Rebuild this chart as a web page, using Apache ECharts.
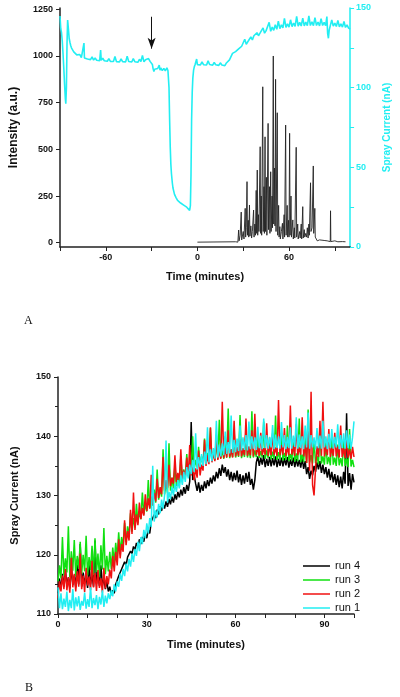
<!DOCTYPE html>
<html><head><meta charset="utf-8">
<script src="https://cdn.jsdelivr.net/npm/echarts@6/dist/echarts.min.js"></script>
<style>html,body{margin:0;padding:0;background:#fff}#c{width:400px;height:697px}</style>
</head><body><div id="c"></div>
<script>
// ---- Panel A: intensity (a.u.) ----
const intensityTime = [0,25,26,26.5,27,27.3,28,28.7,29,30,30.5,31.3,31.6,32,32.5,32.8,33.3,33.6,34.1,34.4,35,35.5,36,36.8,37.1,37.6,38,38.5,38.8,39.2,39.5,40,40.3,41.1,41.4,41.8,42.1,42.8,43.1,43.6,43.9,44.3,44.6,45.2,45.5,46.3,46.6,47.2,47.5,48,48.3,48.9,49.2,49.7,50,50.5,50.8,51.2,51.5,52.3,52.6,53.2,53.5,54,54.3,55,55.7,56,56.8,57.1,57.8,58.1,58.8,59.1,59.7,60,60.4,60.7,61.3,61.6,62.5,62.8,63.5,63.8,64.7,65,65.7,66,67,67.3,68,68.3,69,69.3,70,70.3,71,71.5,72,72.5,73,73.3,74.1,74.4,75.1,75.9,76.2,76.9,77.2,78,78.5,80,81,83,84,85,87,87.2,87.4,90,92,93,95,97];
const intensityValue = [3,5,10,3,68,10,40,164,15,60,20,184,30,80,327,40,120,30,202,35,90,25,60,175,30,100,40,280,50,389,40,150,60,514,50,250,40,835,60,300,50,567,60,350,40,639,70,300,50,380,60,250,80,1000,100,400,90,875,60,696,40,200,30,86,20,60,104,20,150,30,630,40,200,30,120,30,586,40,250,30,122,20,80,25,511,30,100,20,60,25,100,20,193,25,70,30,50,30,80,25,100,40,321,60,80,411,50,184,30,40,10,15,8,12,6,10,6,171,6,10,5,12,6,5];
// ---- Panel A: spray current (nA) ----
const sprayTime = [-90,-89.5,-89,-88.5,-88,-87.5,-87,-86.5,-86.2,-85.8,-85.4,-85,-84.5,-84,-83.5,-83,-82.5,-82,-81,-80,-79,-78,-77,-76,-75,-74.3,-74,-73,-72,-71,-70,-69,-68,-67,-66,-65,-64,-63.4,-63,-62,-61,-60,-59,-58,-57,-56,-55,-54,-53,-52,-51,-50,-49,-48,-47,-46,-45,-44,-43,-42,-41,-40,-39,-38,-37,-36,-35,-34,-33,-32,-31,-30.2,-29.5,-29,-28.5,-28,-27,-26,-25,-24.5,-24,-23,-22,-21,-20,-19.3,-19,-18.6,-18.2,-17.8,-17.4,-17,-16.4,-16,-15,-14,-13,-12,-11,-10,-9,-8,-7,-6,-5.1,-4.6,-4.2,-3.8,-3.4,-3,-2.5,-2,-1.5,-1,-0.5,0,1,2,3,4,5,6,7,8,9,10,11,12,13,14,15,16,17,18,19,20,21,22,23,24,25,26,27,28,29,30,31,32,33,34,35,36,37,38,39,40,41,42,43,44,45,46,47,48,49,50,51,52,53,54,55,56,57,58,59,60,61,62,63,64,65,66,67,68,69,70,71,72,73,74,75,76,77,78,79,80,81,82,83,84,84.8,85.3,85.8,86.3,87,88,89,90,91,92,93,94,95,96,97,98,99,100];
const sprayCurrent = [145,137,134.5,129,121,112,102,93,90,100,128,142.5,137,131,128.5,126.5,125,123.8,122.5,121.4,120.6,119.7,120.8,118.9,119.8,128,118.6,119.6,118,118.9,117.6,119.3,117.3,118.6,117.2,118.4,117,123.6,117.2,118.5,116.9,117.8,116.6,118.2,116.5,117.6,116.4,119.5,116.3,117.5,116.2,118,116.3,117.3,116.2,119.8,116.4,117.4,116.1,118.2,116.3,117.1,115.9,117.8,116.4,120.2,116.2,117.5,116.3,118.3,116.5,117.5,114.6,111.8,110.2,111.5,110.6,112,114.2,111,112.4,110.7,112.1,110.6,112.5,110.8,111.5,100,80,63,52,46,40,37,33,31,29.2,28.3,27.6,27,26.3,25.6,25,24.2,23,26,45,80,97,106,111,113.2,114.5,113.6,118,114.4,115.2,114.3,116.2,114.4,115.4,114.2,116.8,114.5,115.3,114.1,115.8,114.4,115.1,114,115.6,114.2,115,113.8,115.5,114.6,117.4,118.2,121.5,120.4,122.6,122,124.3,123.8,126,125.6,130.4,127.2,128.8,128.5,131.8,130,132.6,131.5,134.5,132.6,134.2,133.4,137.5,134.2,135.8,134.9,141,135.4,138,136,139.5,136.6,141.8,137,139.4,137.5,143.5,137.8,140,138,142.6,138.3,140.6,138.5,144.8,138.6,141,138.7,143.6,138.8,141.2,138.9,145,139,141.4,138.9,144,139,141.2,138.8,143.3,139,141,138.9,144.6,134,131,136,138.8,142.5,138.6,140.5,138.4,142.2,138.2,140,138,141.5,137.8,139.4,137.4,136.8];
const arrowTime = -30, arrowFrom = 144.5, arrowTo = 124.5;
// ---- Panel B: spray current (nA), sampled every 0.5 min from 0 ----
const runStart = 0, runStep = 0.5;
const run1 = [114.5,111,113.5,110.8,112.6,111.2,113.8,110.5,112.4,111,114.2,110.6,112.8,111.3,113,110.7,112.2,111.4,113.6,110.9,112.5,111.2,114.5,111,112.7,111.5,113.2,110.8,112.9,111.6,114,111.2,113.1,111.8,113.5,112.5,114,113,115,113.8,115.5,114.6,116.8,115.6,117.6,116.4,118.5,117.2,119.3,118,120.2,118.8,121,119.8,122.2,120.6,123,121.8,124.2,122.8,125.3,123.6,126.2,124.7,135,125.6,127.5,126.3,128.6,127,129.3,127.8,130,139.3,128.8,130.6,129.4,131.4,130,132,130.6,132.6,131.2,133.4,131.8,134,132.3,134.8,132.9,135.2,133.6,136,134,140.5,134.4,136.5,134.8,137,135,137.4,135.3,141.5,135.6,137.8,135.8,138,136.2,142.6,136.4,138.6,136.6,138.8,136.8,140.8,137,139,137.1,143.5,137.2,139.4,137.3,139.6,137.5,141.8,137.6,139.8,137.7,140.2,137.6,142.5,137.8,140,137.9,139.8,137.7,141.6,138,140.1,137.8,143,138,140.2,137.9,139.9,138.1,141.9,137.8,140.3,138,140,137.9,142.4,138.1,140.2,137.8,139.9,138,141.5,137.9,140.1,138.2,143.2,137.9,140.3,138,140,137.8,141.8,138.1,144,137.9,140.2,138.1,139.8,137.8,141.4,138,140.1,137.9,142.6,138.1,140,137.8,140.4,138,141.2,137.9,139.9,138.1,142,137.8,140.2,138,140.5,137.9,141,138,140.3,137.9,139.8,142.5];
const run2 = [112.7,115.5,113.8,116.5,114.2,117.6,114,116.2,113.6,119.5,114.5,116.8,113.8,117.2,114.6,120.2,114.2,116.5,113.7,117.8,114.8,116.3,114,119,114.5,116.9,113.9,117.4,114.4,116,113.6,117.8,114.3,116.4,115,117.5,116,119.8,117.2,120.5,118.2,122.6,119.4,121.8,120.5,125.8,121.6,124,122.4,127.6,123.5,130.5,124.2,126.8,125,128.8,126,127.9,126.6,130.2,127.4,129.5,127.8,133.5,128.4,130.4,129,132.8,129.6,131.4,130.2,136.5,130.8,132.6,131.3,135.2,131.6,133,132,136.8,132.3,133.8,132.6,137.8,132.8,134.2,133,136.4,133.2,138.5,133.4,135,132.6,134.6,133,137.6,133.4,135.2,134.2,139.4,135,136.8,135.3,141.5,135.6,137.2,135.8,140.2,136,137.6,136.2,145.8,136.3,138,136.4,141,136.5,137.8,136.4,142.6,136.6,138.2,136.7,140.4,136.6,138,136.8,143,136.7,138.3,136.8,141,136.6,143.8,136.9,138.2,136.7,140.6,136.8,138,136.9,142.2,136.7,138.4,136.8,140.5,136.9,138.1,136.7,146.1,136.8,138.5,136.9,141.4,136.7,138.2,136.8,145.2,136.9,138.4,136.7,142,136.8,138.1,136.9,143.2,136.6,138.6,135.5,141.5,134.2,147.5,131.8,130,134.5,138.3,136.5,142.6,136.7,145.8,136.6,138.4,136.8,141.2,136.5,138.1,136.7,140.6,136.6,138.3,136.4,141.8,136.5,138,136.3,139.6,136.4,137.8,136.2,138.2,136.5];
const run3 = [115.5,118.2,116,123,116.5,119.4,117,124.8,116.2,120.6,117.3,122.5,116.4,119.8,117.6,122.2,116.8,120,117.2,123.2,116.5,119.6,117.4,121.5,116.6,122.8,117.1,120.2,116.3,121.6,117.5,124.5,116.7,119.8,117.2,120.5,117.6,121.2,118.6,122,119.5,123.8,120.3,123,121.3,125.4,122.2,124.8,123.1,127,123.9,126.2,124.6,128.6,125.3,127.4,126,130.5,126.8,128.6,127.3,132.6,127.8,129.8,128.3,131,128.8,134.4,129.3,131.2,129.8,137.8,130.2,132,130.5,138.8,130.8,133,131.2,135.2,131.6,133.6,132,136.6,132.6,134.4,133,137,133.4,135,134,140,134.4,136,134.8,138.2,135,136.6,135.3,139.6,135.6,137.2,135.8,141.4,135.9,137.4,136,139,136.2,142.8,136.3,137.6,136.2,140,136.4,144.7,136.3,137.8,136.5,140.8,136.4,137.9,136.5,143.6,136.3,137.7,136.5,141,136.4,137.8,136.3,144.2,136.4,137.6,136.5,140.4,136.3,137.5,136.4,142.5,136.2,137.6,136.3,139.8,136.1,137.4,136.2,143.5,136,137.3,136.1,140.6,135.9,137.2,136,141.8,135.8,137,135.9,139.5,135.7,137.1,135.8,143,135.6,136.9,135.7,140,135.5,144.5,135.6,136.8,135.4,139.2,135.5,136.7,135.3,141.6,135.4,136.6,135.2,139,135.3,136.5,135.1,140.2,135.2,136.4,135,138.6,135.1,136.3,134.9,139.5,135,136.2,134.8,141.2,134.9,136,134.8];
const run4 = [113.5,116,114.2,116.8,114.6,117.5,114.8,116.2,114.3,118,114.9,116.5,114.5,119.2,115,121.8,114.6,117,115.2,116.4,114.4,118.5,115,116.6,114.6,122.4,115.1,116.8,114.7,118.2,114.8,116,114.2,115.5,113.8,114.6,113.2,114,113.5,115,115,116.4,116.2,117.6,117.4,118.8,118.2,119.6,119.3,120.6,120.2,121.4,120.8,122,121.3,122.6,121.8,123,122.2,123.6,122.8,124.2,123.6,125.6,125.5,126.8,126.2,127.6,126.8,128.2,127.4,128.6,127.8,129,128.1,129.4,128.5,129.8,128.8,130.2,129.3,130.6,129.7,131,130,131.4,130.3,131.8,130.8,132.4,142.4,132.6,133.4,132,130.8,132.2,130.5,131.8,130.8,132.4,131.2,132.6,131.6,133,132,133.4,132.4,134,132.9,134.6,133.3,135.2,133.8,134.8,133.2,134.4,132.6,134,132.4,133.8,132.6,134.2,132.2,133.6,131.8,133.4,132,133.8,132.3,134,131.8,132.8,131,132.6,135.6,136.6,135,136.4,135.2,136.8,134.8,136.2,135,136.5,134.9,136.3,135.1,136.6,134.8,136.2,135,136.4,134.9,136.3,135.1,136.5,134.7,136.1,135,136.4,134.8,136.2,134.9,136,134.7,136.3,134.5,135.8,133.6,134.8,132.8,134.2,133.4,135,134,135.6,134.4,135.8,133.8,135.2,133.6,134.8,133,134.5,132.6,134,132.2,133.6,131.8,133.4,131.4,133.2,131.2,134,132,143.9,131.6,133.8,131,133.6,132.2];
const runNames = ['run 1','run 2','run 3','run 4'];
const runColors = ['#22eef2','#f01010','#10e010','#000000'];
const panelLabels = ['A','B'];

const CY = '#22eef2';
const F = 'Liberation Sans, Arial, sans-serif';
const pairs = (ts, vs) => vs.map((v, i) => [ts[i], v]);
const runPairs = vs => vs.map((v, i) => [runStart + i * runStep, v]);
const plain = v => String(v);

const chart = echarts.init(document.getElementById('c'), null, {renderer: 'canvas'});
const axisLbl = {fontFamily: F, fontWeight: 'bold', fontSize: 9, color: '#111', formatter: plain};
const nameStyle = {fontFamily: F, fontWeight: 'bold', fontSize: 12, color: '#111'};
const blackLine = {onZero: false, lineStyle: {color: '#222', width: 1.5}};

const runs = [run1, run2, run3, run4];
const runSeries = [3, 2, 1, 0].map(k => ({
  name: runNames[k], type: 'line', xAxisIndex: 1, yAxisIndex: 2,
  data: runPairs(runs[k]), showSymbol: false, symbol: 'none',
  lineStyle: {color: runColors[k], width: 1.5}, itemStyle: {color: runColors[k]},
  animation: false, z: 3 + (3 - k)
}));

chart.setOption({
  animation: false,
  grid: [
    {left: 58, right: 47, top: 8, bottom: 450},
    {left: 58, right: 46, top: 377, bottom: 83}
  ],
  xAxis: [
    {type: 'value', gridIndex: 0, min: -90, max: 100,
     axisLine: blackLine, splitLine: {show: false},
     axisTick: {customValues: [-90, -60, -30, 0, 30, 60, 90], length: 4, lineStyle: {color: '#222'}},
     axisLabel: Object.assign({customValues: [-60, 0, 60], margin: 6}, axisLbl),
     name: 'Time (minutes)', nameLocation: 'middle', nameGap: 24,
     nameTextStyle: Object.assign({}, nameStyle, {fontSize: 11})},
    {type: 'value', gridIndex: 1, min: 0, max: 100,
     axisLine: blackLine, splitLine: {show: false},
     axisTick: {customValues: [0, 10, 20, 30, 40, 50, 60, 70, 80, 90, 100], length: 4, lineStyle: {color: '#222'}},
     axisLabel: Object.assign({customValues: [0, 30, 60, 90], margin: 6}, axisLbl),
     name: 'Time (minutes)', nameLocation: 'middle', nameGap: 25,
     nameTextStyle: Object.assign({}, nameStyle, {fontSize: 11})}
  ],
  yAxis: [
    {type: 'value', gridIndex: 0, min: -23, max: 1257, position: 'left',
     axisLine: {show: true, onZero: false, lineStyle: {color: '#222', width: 1.5}}, splitLine: {show: false},
     axisTick: {customValues: [0, 250, 500, 750, 1000, 1250], length: 4, lineStyle: {color: '#222'}},
     axisLabel: Object.assign({customValues: [0, 250, 500, 750, 1000, 1250], margin: 7}, axisLbl),
     name: 'Intensity (a.u.)', nameLocation: 'middle', nameGap: 40, nameTextStyle: nameStyle},
    {type: 'value', gridIndex: 0, min: 0, max: 150, position: 'right',
     axisLine: {show: true, onZero: false, lineStyle: {color: CY, width: 1.5}}, splitLine: {show: false},
     axisTick: {customValues: [0, 25, 50, 75, 100, 125, 150], length: 4, lineStyle: {color: CY}},
     axisLabel: Object.assign({}, axisLbl, {customValues: [0, 50, 100, 150], margin: 6, color: CY}),
     name: 'Spray Current (nA)', nameLocation: 'middle', nameGap: 29, nameRotate: 90,
     nameTextStyle: Object.assign({}, nameStyle, {fontSize: 10, color: CY})},
    {type: 'value', gridIndex: 1, min: 110, max: 150, interval: 10,
     axisLine: {show: true, onZero: false, lineStyle: {color: '#222', width: 1.5}}, splitLine: {show: false},
     axisTick: {length: 4, lineStyle: {color: '#222'}},
     minorTick: {show: true, splitNumber: 2, length: 3, lineStyle: {color: '#222'}},
     minorSplitLine: {show: false},
     axisLabel: Object.assign({margin: 7}, axisLbl),
     name: 'Spray Current (nA)', nameLocation: 'middle', nameGap: 38,
     nameTextStyle: Object.assign({}, nameStyle, {fontSize: 11})}
  ],
  legend: {
    orient: 'vertical', left: 298, top: 554, data: ['run 4', 'run 3', 'run 2', 'run 1'],
    icon: 'rect', itemWidth: 27, itemHeight: 1.5, itemGap: 0,
    textStyle: {fontFamily: F, fontSize: 11, color: '#111', lineHeight: 14}
  },
  graphic: [
    {type: 'text', left: 24, top: 315, style: {text: panelLabels[0], font: '12px "Liberation Serif", serif', fill: '#111'}},
    {type: 'text', left: 25, top: 682, style: {text: panelLabels[1], font: '12px "Liberation Serif", serif', fill: '#111'}}
  ],
  series: [
    {type: 'line', xAxisIndex: 0, yAxisIndex: 0, data: pairs(intensityTime, intensityValue),
     showSymbol: false, symbol: 'none', lineStyle: {color: '#222', width: 0.9}, z: 2},
    {type: 'line', xAxisIndex: 0, yAxisIndex: 1, data: pairs(sprayTime, sprayCurrent),
     showSymbol: false, symbol: 'none', lineStyle: {color: CY, width: 1.6}, z: 3,
     markLine: {silent: true, symbol: ['none', 'arrow'], symbolSize: [6, 11],
       label: {show: false}, lineStyle: {color: '#111', width: 1, type: 'solid'},
       data: [[{coord: [arrowTime, arrowFrom]}, {coord: [arrowTime, arrowTo]}]]}}
  ].concat(runSeries)
});
</script></body></html>
